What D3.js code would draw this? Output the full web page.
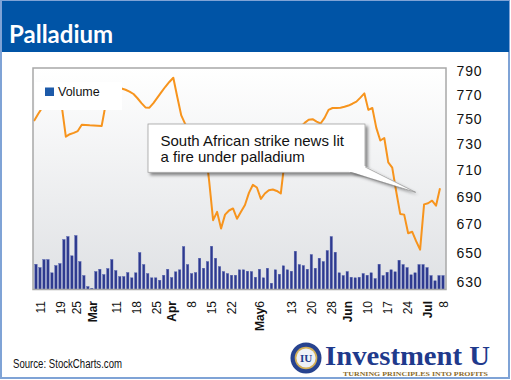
<!DOCTYPE html>
<html><head><meta charset="utf-8">
<script src="https://cdn.jsdelivr.net/npm/d3@7"></script>
<style>body{margin:0;background:#fff}svg{display:block}</style>
</head><body>
<svg id="c" width="511" height="380"></svg>
<script>
// ---- data: palladium, daily, Feb 8 2013 – Jul 8 2013 (103 sessions) ----
const prices = [748.5,754,759,765,770,768,764,760,736,738,739,740.5,745.5,745.3,745.1,745,744.8,744.5,762,770,
774,776,775,774,772.5,770.5,767,763,759.5,759.3,763,767.5,772,776.5,780.5,784,768,753,746,742,
738,735,732,728,702,673,679,667,677,680,681.5,674,679,684,693,699,697,688.5,692.5,695,
695.5,694.4,692.5,718,728,735,740,744,747,749.5,750,748,746.5,751,757.5,759,759,759.3,760,761,
762.5,764.2,767.5,771,757.5,759,743,733,735,716,712,694,677.5,677,663.6,664.7,658,652,684.5,685.3,
687.2,683.5,696.4];
const volume = [25.3,22,30,30,16.7,24,26,50,53,33.7,54,28,14,3,1.3,18,20.3,15,21,30,
19,13,13,17,11.7,16.7,37,25,16,11.7,11.7,9.3,14.3,20.3,12,17.7,19.7,43,25,16,
17,31.3,21.3,28,43.3,31.3,23,18,16,14.3,14.3,19.7,19.7,18.3,18,12.3,20.3,11.7,21.3,6.3,
19.7,15.3,23.7,19.7,18.3,38.3,25,24,20.3,35,21.3,31.3,28,39,53,37.3,16.7,14,18,12.3,
11.7,12.3,16,14.3,16.7,11,25.3,14,17.3,19.7,17.7,29.3,25,22,14.7,16.7,25,25,22,14,
8.7,14,14];
const tickIdx    = [1,6,10,14,20,25,30,34,39,44,49,56,64,69,74,78,83,88,93,98,102];
const tickLabels = ["11","19","25","Mar","11","18","25","Apr","8","15","22","May|6","13","20","28","Jun","10","17","24","Jul","8"];
const priceTicks = [630,650,670,690,710,730,750,770,790];
const title = "Palladium";
const note = ["South African strike news lit","a fire under palladium"];

const svg = d3.select("#c");
const defs = svg.append("defs");
const g1 = defs.append("linearGradient").attr("id","bg").attr("x1",0).attr("y1",0).attr("x2",0).attr("y2",1);
g1.append("stop").attr("offset","0%").attr("stop-color","#ffffff");
g1.append("stop").attr("offset","100%").attr("stop-color","#dfe1e4");
const f = defs.append("filter").attr("id","sh").attr("x","-10%").attr("y","-10%").attr("width","130%").attr("height","140%");
f.append("feDropShadow").attr("dx",2.5).attr("dy",2.5).attr("stdDeviation",1.5).attr("flood-color","#000").attr("flood-opacity",0.45);
defs.append("clipPath").attr("id","pc").append("rect").attr("x",33).attr("y",68).attr("width",413).attr("height",221);

// frame + title bar
svg.append("rect").attr("x",1).attr("y",1).attr("width",508).attr("height",377).attr("fill","#fff").attr("stroke","#7fa3d6").attr("stroke-width",2);
svg.append("rect").attr("x",2).attr("y",1).attr("width",507).attr("height",51).attr("fill","#0054a6");
svg.append("text").attr("x",9).attr("y",43).attr("fill","#fff").attr("font-family","Lato, 'Open Sans', sans-serif")
  .attr("font-weight",700).attr("font-size",24).text(title);

// scales
const xBand = d3.scaleBand().domain(d3.range(prices.length)).range([34,445]).paddingInner(0.4).paddingOuter(0.2);
const xLine = d3.scalePoint().domain(d3.range(prices.length)).range([34,440]);
const yP = d3.scaleLog().domain([630,790]).range([281.7,70.7]);
const yV = d3.scaleLinear().domain([0,100]).range([289.5,189.5]);

// plot area
svg.append("rect").attr("x",33).attr("y",68).attr("width",413).attr("height",221.5).attr("fill","url(#bg)");

// volume bars
svg.append("g").selectAll("rect").data(volume).join("rect")
  .attr("x",(d,i)=>xBand(i)).attr("width",xBand.bandwidth())
  .attr("y",d=>yV(d)).attr("height",d=>yV(0)-yV(d))
  .attr("fill","#2e3a8f").attr("stroke","#5563b0").attr("stroke-width",0.4);

// price line
svg.append("path").datum(prices).attr("clip-path","url(#pc)")
  .attr("d",d3.line().x((d,i)=>xLine(i)).y(d=>yP(d)))
  .attr("fill","none").attr("stroke","#f7941d").attr("stroke-width",2).attr("stroke-linejoin","round");

// plot border
svg.append("rect").attr("x",33).attr("y",68).attr("width",413).attr("height",221.5)
  .attr("fill","none").attr("stroke","#a8a8a8").attr("stroke-width",1.5);

// legend
svg.append("rect").attr("x",35).attr("y",82).attr("width",87).attr("height",28).attr("fill","#fff");
svg.append("rect").attr("x",45).attr("y",87.5).attr("width",9).attr("height",8.5).attr("fill","#1d5aa9");
svg.append("text").attr("x",58).attr("y",96).attr("font-family","'Liberation Sans', Arial, sans-serif")
  .attr("font-size",12.5).attr("fill","#111").text("Volume");

// annotation
svg.append("rect").attr("x",148).attr("y",124).attr("width",217).attr("height",48.3)
  .attr("fill","#fff").attr("stroke","#a0a0a0").attr("stroke-width",0.8).attr("filter","url(#sh)");
svg.append("path").attr("d","M350,171.5 L415.7,192.3 L364.6,166 Z").attr("fill","#fff").attr("filter","url(#sh)");
svg.append("path").attr("d","M350,172.3 L415.7,192.3 L365.2,167").attr("fill","none").attr("stroke","#8a8a8a").attr("stroke-width",0.7);
svg.append("rect").attr("x",349).attr("y",166).attr("width",15.8).attr("height",5.9).attr("fill","#fff");
const nt = svg.append("text").attr("font-family","'Liberation Sans', Arial, sans-serif").attr("font-size",15).attr("fill","#111");
note.forEach((s,k)=>nt.append("tspan").attr("x",160.5).attr("y",145.7+k*16.6).text(s));

// y axis (right)
const ya = svg.append("g").attr("transform","translate(446,0)")
  .call(d3.axisRight(yP).tickValues(priceTicks).tickFormat(d3.format("d")).tickSize(0).tickPadding(10.5));
ya.select(".domain").remove();
ya.selectAll("text").attr("font-family","'Liberation Sans', Arial, sans-serif").attr("font-size",14)
  .attr("letter-spacing",0.9).attr("fill","#111");

// x labels (rotated)
const xl = svg.append("g").selectAll("text").data(tickIdx).join("text")
  .attr("transform",(d)=>`translate(${xBand(d)+xBand.bandwidth()/2+0.5},301) rotate(-90)`)
  .attr("text-anchor","end").attr("dy","0.36em")
  .attr("font-family","'Liberation Sans', Arial, sans-serif").attr("font-size",12).attr("fill","#111");
xl.each(function(d,k){
  const lab = tickLabels[k], el = d3.select(this);
  if (lab.includes("|")) {
    const [m,n] = lab.split("|");
    el.append("tspan").attr("font-weight",700).text(m);
    el.append("tspan").text(n);
  } else if (/^[A-Za-z]/.test(lab)) {
    el.append("tspan").attr("font-weight",700).text(lab);
  } else el.text(lab);
});

// source
svg.append("text").attr("x",13).attr("y",368).attr("font-family","'Liberation Sans', Arial, sans-serif")
  .attr("font-size",12).attr("fill","#111").attr("textLength",109).attr("lengthAdjust","spacingAndGlyphs")
  .text("Source: StockCharts.com");

// logo
const lg = svg.append("g");
lg.append("circle").attr("cx",306).attr("cy",358).attr("r",15.5).attr("fill","#27438f");
lg.append("circle").attr("cx",306).attr("cy",358).attr("r",11.3).attr("fill","#d4b058");
lg.append("circle").attr("cx",306).attr("cy",358).attr("r",9.6).attr("fill","#eef1f7");
lg.append("text").attr("x",306).attr("y",362).attr("text-anchor","middle").attr("font-family","'Liberation Serif', serif")
  .attr("font-weight",700).attr("font-size",11).attr("fill","#1f3d8c").text("IU");
lg.append("text").attr("x",325).attr("y",364.5).attr("font-family","'Liberation Serif', 'DejaVu Serif', serif")
  .attr("font-weight",700).attr("font-size",27).attr("fill","#1f3a8c").attr("textLength",165).attr("lengthAdjust","spacingAndGlyphs")
  .text("Investment U");
lg.append("text").attr("x",343).attr("y",375.5).attr("font-family","'Liberation Serif', serif")
  .attr("font-weight",700).attr("font-size",6.5).attr("fill","#8a6a2a").attr("textLength",145).attr("lengthAdjust","spacingAndGlyphs")
  .text("TURNING PRINCIPLES INTO PROFITS");
</script>
</body></html>
